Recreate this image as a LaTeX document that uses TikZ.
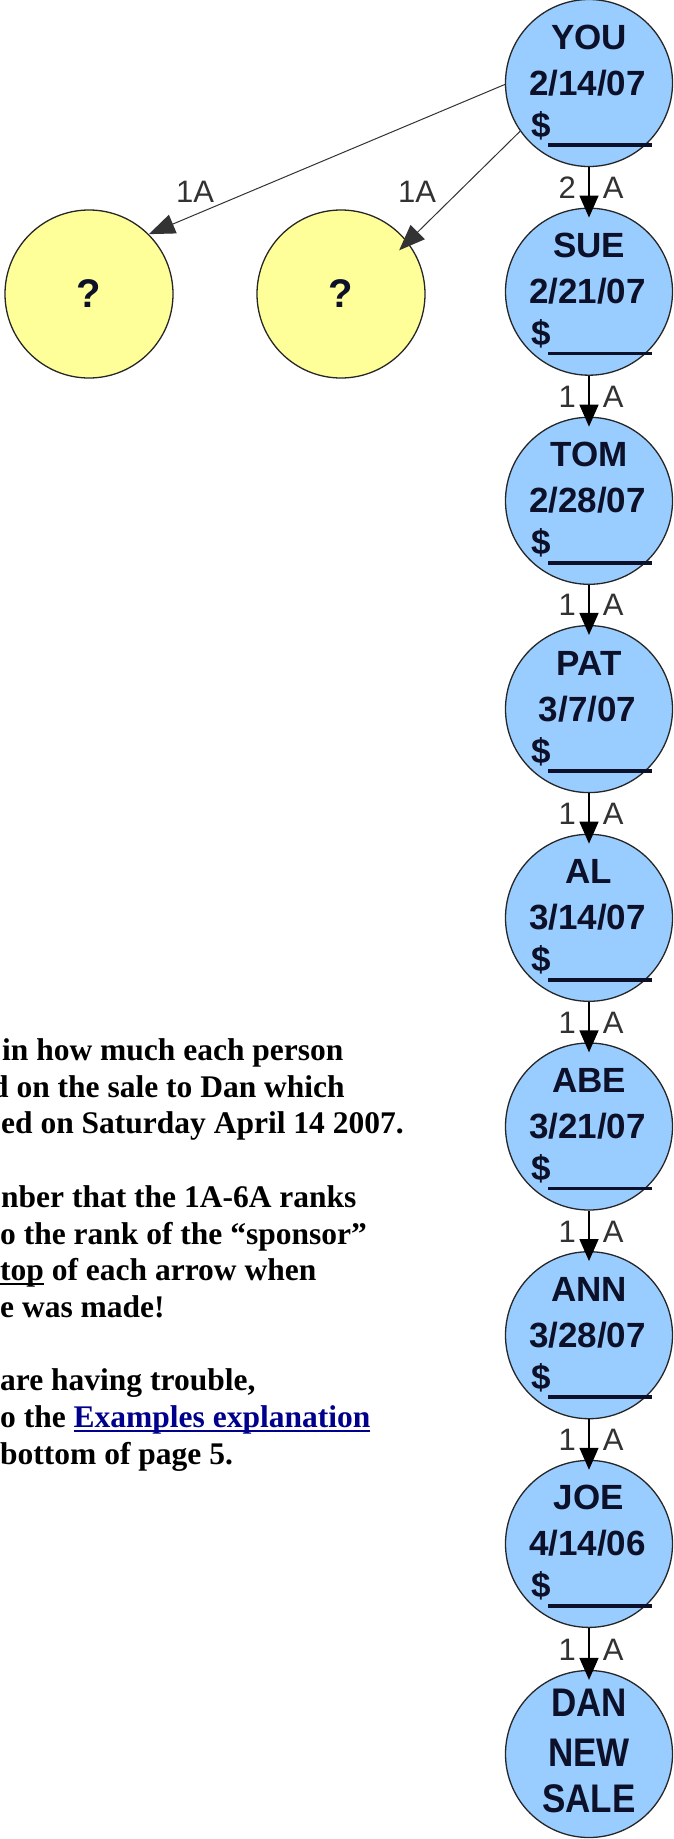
\documentclass[tikz,border=0pt]{standalone}
\usepackage{fontspec}
\setmainfont{Liberation Serif}
\newfontfamily\arialf{Liberation Sans}
\usetikzlibrary{calc,arrows.meta}

\definecolor{nodeblue}{RGB}{153,204,255}
\definecolor{nodeyellow}{RGB}{255,255,153}
\definecolor{inkdark}{RGB}{12,16,40}
\definecolor{linkblue}{RGB}{0,0,140}
\definecolor{rankgray}{RGB}{50,50,50}

% underline drawn a few points under the baseline, in the current colour
\newcommand\ulbox[1]{\setbox0\hbox{#1}\rlap{\rule[-5pt]{\wd0}{2pt}}\box0\relax}

% one blue person circle: id, centre y, name, date
\newcommand\personnode[4]{%
  \node[person] (#1) at (589,#2) {};
  \node[ptext] (#1-name) at ($(#1.center)+(0,-34)$) {#3};
  \node[ptext] (#1-date) at ($(#1.center)+(-1.5,12)$) {#4};
  \node[ptext, anchor=base west] (#1-amt) at ($(#1.center)+(-58,54)$) {\$};
  \draw[line width=3.5pt, inkdark] ($(#1.center)+(-41,62)$) -- ($(#1.center)+(63,62)$);
}

\begin{document}
\begin{tikzpicture}[x=1pt,y=-1pt,
  person/.style={circle, draw=black!85, line width=1.3pt, fill=nodeblue,
    minimum size=167pt, inner sep=0},
  unknown/.style={circle, draw=black!85, line width=1.3pt, fill=nodeyellow,
    minimum size=168pt, inner sep=0,
    font=\arialf\bfseries\fontsize{40}{40}\selectfont, text=inkdark},
  ptext/.style={inner sep=0, anchor=base,
    font=\arialf\bfseries\fontsize{35}{35}\selectfont, text=inkdark},
  rank/.style={inner sep=0, anchor=base,
    font=\arialf\fontsize{31}{31}\selectfont, text=rankgray},
  sponsor/.style={-{Triangle[length=22pt,width=19pt]}, line width=1.5pt, black,
    shorten >=-10pt},
  side/.style={-{Triangle[length=26pt,width=20pt]}, line width=1pt, black!80},
  note/.style={inner sep=0, anchor=base west,
    font=\bfseries\fontsize{31.5}{36.7}\selectfont},
]
\useasboundingbox (0,0) rectangle (674,1839);
\fill[white] (0,0) rectangle (674,1839);

% chain of sponsors
\personnode{you}{83}{YOU}{2/14/07}
\personnode{sue}{291.7}{SUE}{2/21/07}
\personnode{tom}{500.8}{TOM}{2/28/07}
\personnode{pat}{709.1}{PAT}{3/7/07}
\personnode{al}{917.8}{AL}{3/14/07}
\personnode{abe}{1126.5}{ABE}{3/21/07}
\personnode{ann}{1335.2}{ANN}{3/28/07}
\personnode{joe}{1543.9}{JOE}{4/14/06}

\node[person] (dan) at (589,1754) {};
\node[ptext] (dan-1) at ($(dan.center)+(0,-38)$) {\scalebox{1}[1.14]{DAN}};
\node[ptext] (dan-2) at ($(dan.center)+(0,12)$) {\scalebox{1}[1.14]{NEW}};
\node[ptext] (dan-3) at ($(dan.center)+(0,58)$) {\scalebox{1}[1.14]{SALE}};

% the two open positions
\node[unknown] (q1) at (89,294) {?};
\node[unknown] (q2) at (341,294) {?};

% sponsor arrows down the chain
\draw[sponsor] (you) -- (sue);
\draw[sponsor] (sue) -- (tom);
\draw[sponsor] (tom) -- (pat);
\draw[sponsor] (pat) -- (al);
\draw[sponsor] (al) -- (abe);
\draw[sponsor] (abe) -- (ann);
\draw[sponsor] (ann) -- (joe);
\draw[sponsor] (joe) -- (dan);

\node[rank] (r1) at ($(sue.north)+(2,-9)$) {2\hspace{27pt}A};
\node[rank] (r2) at ($(tom.north)+(2,-9)$) {1\hspace{27pt}A};
\node[rank] (r3) at ($(pat.north)+(2,-9)$) {1\hspace{27pt}A};
\node[rank] (r4) at ($(al.north)+(2,-9)$) {1\hspace{27pt}A};
\node[rank] (r5) at ($(abe.north)+(2,-9)$) {1\hspace{27pt}A};
\node[rank] (r6) at ($(ann.north)+(2,-9)$) {1\hspace{27pt}A};
\node[rank] (r7) at ($(joe.north)+(2,-9)$) {1\hspace{27pt}A};
\node[rank] (r8) at ($(dan.north)+(2,-9)$) {1\hspace{27pt}A};

% side arrows to the open positions
\draw[side] (you.181) -- (q1.45);
\draw[side, shorten >=-12pt] (you.215) -- (q2.38);
\node[rank] (s1) at (195,202) {1A};
\node[rank] (s2) at (417,202) {1A};

% instructions
\node[note] (n1) at (2,1060) {in how much each person};
\node[note] (n2) at (-9,1097) {d on the sale to Dan which};
\node[note] (n3) at (1,1133) {ed on Saturday April 14 2007.};
\node[note] (n4) at (1,1207) {nber that the 1A-6A ranks};
\node[note] (n5) at (0,1244) {o the rank of the “sponsor”};
\node[note] (n6) at (0,1280) {\ulbox{top} of each arrow when};
\node[note] (n7) at (0,1317) {e was made!};
\node[note] (n8) at (0,1390) {are having trouble,};
\node[note] (n9) at (0,1427) {o the {\color{linkblue}\ulbox{Examples explanation}}};
\node[note] (n10) at (0,1464) {bottom of page 5.};
\end{tikzpicture}
\end{document}
